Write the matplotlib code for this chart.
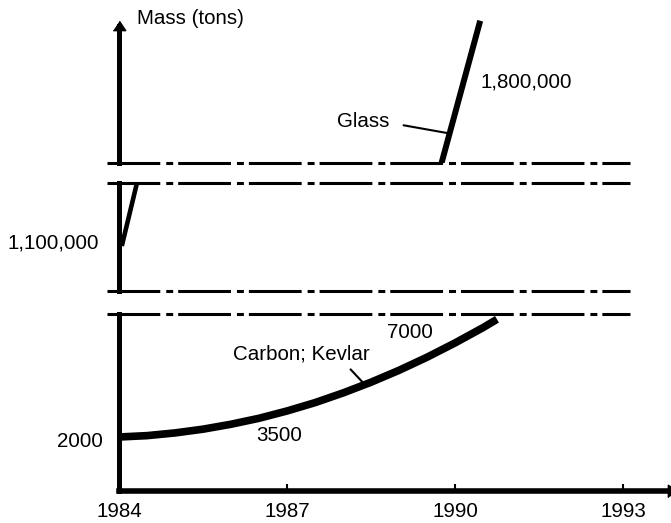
import matplotlib
matplotlib.use("Agg")
import matplotlib.pyplot as plt

plt.rcParams['font.family'] = ['Liberation Sans', 'DejaVu Sans']
plt.rcParams['font.size'] = 14.8
plt.rcParams['lines.scale_dashes'] = False

# carbon; kevlar (lower panel), tons
carbon_years = [1984, 1984.5, 1985, 1985.5, 1986, 1986.5, 1987, 1987.5, 1988,
                1988.5, 1989, 1989.5, 1990, 1990.5, 1990.75]
carbon_mass = [2000, 2080, 2240, 2460, 2750, 3100, 3530, 4020, 4590,
               5220, 5920, 6690, 7530, 8430, 8920]

# glass: start (middle panel) and after the break (upper panel), tons
glass_years_lo = [1984.05, 1984.32]
glass_mass_lo = [1100000, 1405000]
glass_years_hi = [1989.76, 1990.16, 1990.45]
glass_mass_hi = [1400000, 1800000, 2090000]

year_ticks = [1984, 1987, 1990, 1993]

W, H = 671, 523
fig = plt.figure(figsize=(W / 100, H / 100), dpi=100)

def box(top, bottom):
    return [119 / W, 1 - bottom / H, (W - 119) / W, (bottom - top) / H]

ax_top = fig.add_axes(box(18, 163))
ax_mid = fig.add_axes(box(183, 291))
ax_bot = fig.add_axes(box(314, 491))

xlim = (1984, 1984 + 552 / 56)
for ax in (ax_top, ax_mid, ax_bot):
    ax.set_xlim(*xlim)
    for s in ('top', 'right', 'bottom'):
        ax.spines[s].set_visible(False)
    ax.spines['left'].set_linewidth(3.6)
    ax.set_yticks([])
    ax.set_facecolor('none')
ax_top.set_xticks([])
ax_mid.set_xticks([])

ax_top.set_ylim(1400000, 2103250)
ax_mid.set_ylim(881750, 1405550)
ax_bot.set_ylim(-1175, 9232)

# axes with arrows
ax_bot.spines['bottom'].set_visible(True)
ax_bot.spines['bottom'].set_linewidth(4)
ax_bot.set_xticks(year_ticks)
ax_bot.set_xticklabels([str(y) for y in year_ticks])
ax_bot.tick_params(axis='x', direction='in', length=5, width=1.5, pad=8)
ax_top.spines['left'].set_bounds(1400000, 2064000)
up = [(-6, -4), (6, -4), (0, 5)]
right = [(-4, -6), (-4, 6), (5, 0)]
ax_top.plot([1984], [2064000], marker=up, ms=9, color='black', clip_on=False)
ax_bot.plot([1993.875], [-1175], marker=right, ms=9, color='black', clip_on=False)

# break lines
brk = dict(color='black', lw=2.2, dashes=(38, 4.3, 5, 3.6), clip_on=False)
bx = [1983.79, 1993.125]
ax_top.plot(bx, [1400000] * 2, **brk)
ax_mid.plot(bx, [1405550] * 2, **brk)
ax_mid.plot(bx, [881750] * 2, **brk)
ax_bot.plot(bx, [9232] * 2, **brk)

# curves
ax_bot.plot(carbon_years, carbon_mass, color='black', lw=5.5, solid_capstyle='butt',
            solid_joinstyle='round')
ax_mid.plot(glass_years_lo, glass_mass_lo, color='black', lw=3.3, solid_capstyle='butt')
ax_top.plot(glass_years_hi, glass_mass_hi, color='black', lw=4.3, solid_capstyle='butt')

# labels
ax_top.annotate('Mass (tons)', (0, 1), xycoords='axes fraction', xytext=(13, 0),
                textcoords='offset points', ha='left', va='center', annotation_clip=False)
ax_top.annotate('1,800,000', (1990, 1800000), xytext=(18, -1), textcoords='offset points',
                ha='left', va='center')
ax_top.annotate('Glass', (1989.857, 1545500), xytext=(-60, 8), textcoords='offset points',
                ha='center', va='center',
                arrowprops=dict(arrowstyle='-', lw=1.5, color='black', relpos=(1, 0.45),
                                shrinkA=8, shrinkB=0))
ax_mid.annotate('1,100,000', (1984, 1100000), xytext=(-14.4, 2.2), textcoords='offset points',
                ha='right', va='center', annotation_clip=False)
ax_bot.annotate('2000', (1984, 2000), xytext=(-11.5, -2.9), textcoords='offset points',
                ha='right', va='center', annotation_clip=False)
ax_bot.annotate('3500', (1987, 3500), xytext=(-5.4, -17), textcoords='offset points',
                ha='center', va='center')
ax_bot.annotate('7000', (1990, 7000), xytext=(-32.8, 13.7), textcoords='offset points',
                ha='center', va='center')
ax_bot.annotate('Carbon; Kevlar', (1988.39, 5080), xytext=(-45.7, 22), textcoords='offset points',
                ha='center', va='center',
                arrowprops=dict(arrowstyle='-', lw=1.5, color='black', relpos=(0.82, 0),
                                shrinkA=3, shrinkB=0))

fig.savefig('out.png', dpi=100)
